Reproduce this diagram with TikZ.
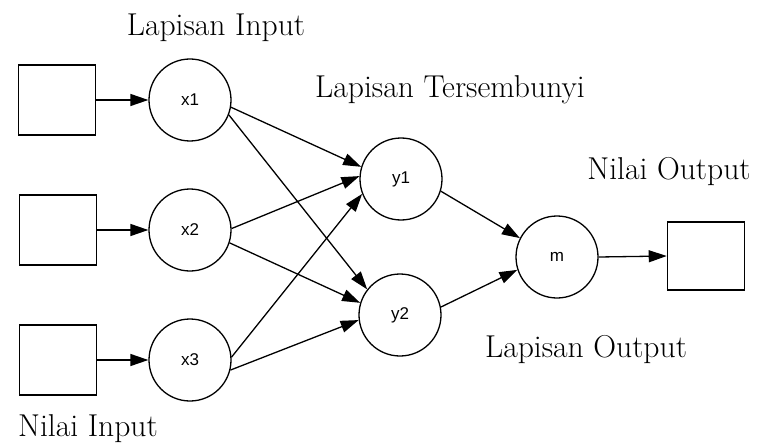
\documentclass[tikz,border=0pt]{standalone}
\usepackage{fontspec}
\newfontfamily\simpulfont{Liberation Sans}
\usetikzlibrary{arrows.meta}
\tikzset{
  neuron/.style={draw,circle,line width=0.65pt,minimum size=41pt,inner sep=0pt,
    font=\simpulfont\fontsize{8.5}{10}\selectfont},
  kotak/.style={draw,rectangle,line width=0.8pt,minimum width=38.5pt,minimum height=35pt,inner sep=0pt},
  judul/.style={font=\fontsize{15.8}{18}\selectfont,inner sep=0pt},
  panah/.style={-{Triangle[length=9pt,width=6pt]},line width=0.65pt}
}
\begin{document}
\begin{tikzpicture}[x=0.5pt,y=-0.5pt]
            \useasboundingbox (0,0) rectangle (758,443);
            % kotak masukan
            \node[kotak] (inA) at (57,100) {};
            \node[kotak] (inB) at (58,230) {};
            \node[kotak] (inC) at (58,360) {};
            % lapisan input
            \node[neuron] (x1) at (190,100) {x1};
            \node[neuron] (x2) at (190,230) {x2};
            \node[neuron] (x3) at (190,360) {x3};
            % lapisan tersembunyi
            \node[neuron] (y1) at (401,179) {y1};
            \node[neuron] (y2) at (400,315) {y2};
            % lapisan output
            \node[neuron] (m) at (557,257) {m};
            \node[kotak,minimum height=34pt] (out) at (706,256) {};
            % judul
            \node[judul] (tIn) at (216,28) {Lapisan Input};
            \node[judul] (tHid) at (450,90) {Lapisan Tersembunyi};
            \node[judul] (tNOut) at (669,172) {Nilai Output};
            \node[judul] (tOut) at (586,350) {Lapisan Output};
            \node[judul] (tNIn) at (88,429) {Nilai Input};
            % panah
            \draw[panah] (inA.east) -- (x1.west);
            \draw[panah] (inB.east) -- (x2.west);
            \draw[panah] (inC.east) -- (x3.west);
            \draw[panah] (x1.-10) -- (y1.163);
            \draw[panah] (x1.-21) -- (y2.142);
            \draw[panah] (x2.2) -- (y1.176);
            \draw[panah] (x2.-18) -- (y2.163);
            \draw[panah] (x3.4) -- (y1.201);
            \draw[panah] (x3.-14) -- (y2.187);
            \draw[panah] (y1.-17) -- (m.153);
            \draw[panah] (y2.11) -- (m.198);
            \draw[panah] (m.east) -- (out.west);
        \end{tikzpicture}
\end{document}
